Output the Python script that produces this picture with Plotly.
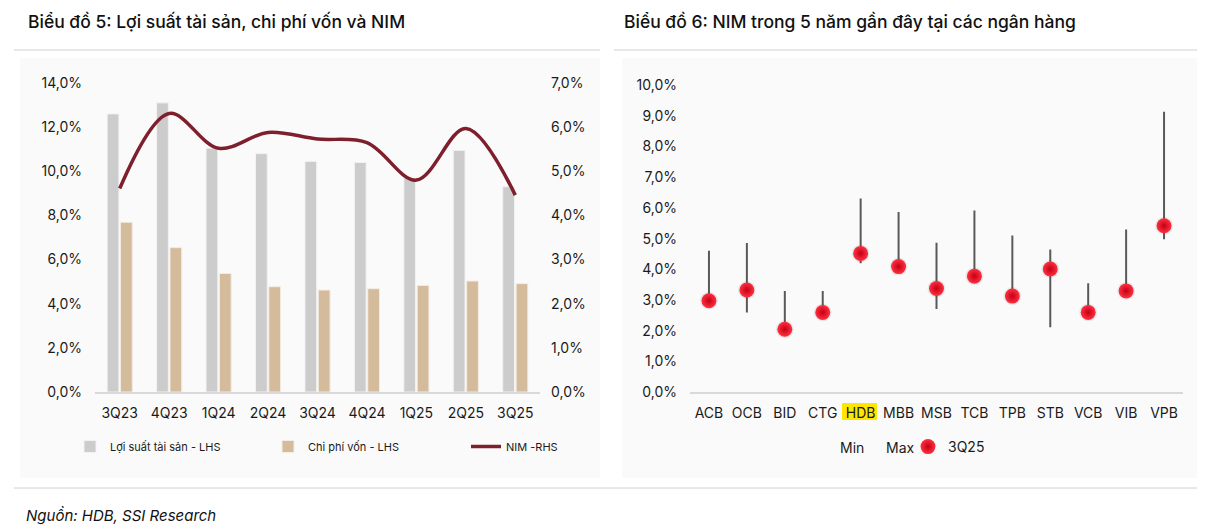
import plotly.graph_objects as go

W, H = 1205, 528
OFF = 8  # the page places the figure 8px in from the top-left corner

# ---------------- data ----------------
quarters = ["3Q23", "4Q23", "1Q24", "2Q24", "3Q24", "4Q24", "1Q25", "2Q25", "3Q25"]
asset_yield = [0.126, 0.131, 0.1105, 0.108, 0.1045, 0.104, 0.097, 0.1095, 0.093]
cost_of_funds = [0.0769, 0.0654, 0.0537, 0.0477, 0.0462, 0.0468, 0.0483, 0.0503, 0.0491]
nim = [0.0461, 0.0631, 0.0552, 0.0588, 0.0573, 0.0565, 0.0480, 0.0597, 0.0446]

left_ticks = [0.0, 0.02, 0.04, 0.06, 0.08, 0.10, 0.12, 0.14]
left_labels = ["0,0%", "2,0%", "4,0%", "6,0%", "8,0%", "10,0%", "12,0%", "14,0%"]
right_ticks = [0.0, 0.01, 0.02, 0.03, 0.04, 0.05, 0.06, 0.07]
right_labels = ["0,0%", "1,0%", "2,0%", "3,0%", "4,0%", "5,0%", "6,0%", "7,0%"]

banks = ["ACB", "OCB", "BID", "CTG", "HDB", "MBB", "MSB", "TCB", "TPB", "STB", "VCB", "VIB", "VPB"]
nim_min = [0.0298, 0.0260, 0.0205, 0.0260, 0.0420, 0.0409, 0.0271, 0.0378, 0.0313, 0.0212, 0.0260, 0.0330, 0.0498]
nim_max = [0.0461, 0.0486, 0.0330, 0.0330, 0.0631, 0.0587, 0.0487, 0.0592, 0.0510, 0.0465, 0.0355, 0.0530, 0.0913]
nim_3q25 = [0.0298, 0.0333, 0.0205, 0.0260, 0.0452, 0.0409, 0.0338, 0.0378, 0.0313, 0.0401, 0.0260, 0.0330, 0.0542]

bank_ticks = [i / 100 for i in range(0, 11)]
bank_tick_labels = [f"{i},0%" for i in range(0, 11)]

FONT = "Inter"
TXT = "#1a1a1a"

def px(x):
    return (x - OFF) / W

def py(y):
    return 1 - (y - OFF) / H

fig = go.Figure()

# ---------------- left chart ----------------
fig.add_trace(go.Bar(
    x=quarters, y=asset_yield, name="Lợi suất tài sản - LHS",
    marker=dict(color="#cccccc", line=dict(color="#f2f2f2", width=1)),
    xaxis="x", yaxis="y", legend="legend"))
fig.add_trace(go.Bar(
    x=quarters, y=cost_of_funds, name="Chi phí vốn - LHS",
    marker=dict(color="#d4bb9b", line=dict(color="#f4ece2", width=1)),
    xaxis="x", yaxis="y", legend="legend"))
fig.add_trace(go.Scatter(
    x=quarters, y=nim, name="NIM -RHS", mode="lines",
    line=dict(color="#7d1f2c", width=3.5, shape="spline", smoothing=1.0),
    xaxis="x", yaxis="y2", legend="legend"))

# ---------------- right chart ----------------
for i, b in enumerate(banks):
    fig.add_trace(go.Scatter(
        x=[b, b], y=[nim_min[i], nim_max[i]], mode="lines",
        line=dict(color="#595959", width=2), showlegend=False,
        hoverinfo="skip", xaxis="x3", yaxis="y3"))

fig.add_trace(go.Scatter(
    x=banks, y=nim_min, name="Min", mode="markers", showlegend=False,
    marker=dict(size=1, color="rgba(0,0,0,0)"),
    xaxis="x3", yaxis="y3"))
fig.add_trace(go.Scatter(
    x=banks, y=nim_max, name="Max", mode="markers", showlegend=False,
    marker=dict(size=1, color="rgba(0,0,0,0)"),
    xaxis="x3", yaxis="y3"))
# soft shadow under the spheres
fig.add_trace(go.Scatter(
    x=banks, y=nim_3q25, mode="markers", showlegend=False, hoverinfo="skip",
    marker=dict(size=18, color="rgba(0,0,0,0.07)", line=dict(width=0)),
    xaxis="x3", yaxis="y3"))
fig.add_trace(go.Scatter(
    x=banks, y=nim_3q25, name="3Q25", mode="markers",
    marker=dict(size=15, color="#ff3040",
                gradient=dict(type="radial", color="#c40016"),
                line=dict(width=0)),
    xaxis="x3", yaxis="y3", legend="legend2"))

axis_font = dict(family=FONT, size=14, color=TXT)

fig.update_layout(
    width=W, height=H,
    margin=dict(l=0, r=0, t=0, b=0, autoexpand=False),
    paper_bgcolor="white", plot_bgcolor="rgba(0,0,0,0)",
    font=dict(family=FONT, color=TXT),
    barmode="group", bargap=0.46, bargroupgap=0.12,
    xaxis=dict(domain=[px(95), px(540)], anchor="y", type="category",
               range=[-0.5, len(quarters) - 0.5], automargin=False,
               showgrid=False, showline=True, linecolor="#d9d9d9", linewidth=2,
               ticks="", tickfont=axis_font, ticklabelstandoff=7),
    yaxis=dict(domain=[py(392), py(83)], range=[0, 0.14], anchor="x", automargin=False,
               tickvals=left_ticks, ticktext=left_labels, showgrid=False,
               zeroline=False, showline=False, tickfont=axis_font, ticklabelstandoff=12),
    yaxis2=dict(domain=[py(392), py(83)], range=[0, 0.07], anchor="x", automargin=False,
                overlaying="y", side="right",
                tickvals=right_ticks, ticktext=right_labels, showgrid=False,
                zeroline=False, showline=False, tickfont=axis_font, ticklabelstandoff=10),
    xaxis3=dict(domain=[px(690), px(1183)], anchor="y3", type="category",
                range=[-0.5, len(banks) - 0.5], automargin=False,
                showgrid=False, showline=True, linecolor="#d9d9d9", linewidth=2,
                ticks="", tickfont=axis_font, ticklabelstandoff=7),
    yaxis3=dict(domain=[py(392.3), py(85)], range=[0, 0.10], anchor="x3", automargin=False,
                tickvals=bank_ticks, ticktext=bank_tick_labels, showgrid=False,
                zeroline=False, showline=False, tickfont=axis_font, ticklabelstandoff=12),
    legend=dict(orientation="h", x=px(70), y=py(432), xanchor="left", yanchor="top",
                font=dict(family=FONT, size=11, color=TXT), bgcolor="rgba(0,0,0,0)",
                entrywidth=153, entrywidthmode="pixels", itemwidth=30,
                traceorder="normal"),
    legend2=dict(orientation="h", x=px(908), y=py(431), xanchor="left", yanchor="top",
                 font=dict(family=FONT, size=14, color=TXT), bgcolor="rgba(0,0,0,0)",
                 itemwidth=30, traceorder="normal"),
    showlegend=True,
)

shapes = [
    # panel backgrounds
    dict(type="rect", xref="paper", yref="paper", x0=px(20), x1=px(600), y0=py(478), y1=py(58),
         fillcolor="#fafafa", line=dict(width=0), layer="below"),
    dict(type="rect", xref="paper", yref="paper", x0=px(622), x1=px(1200), y0=py(478), y1=py(58),
         fillcolor="#fafafa", line=dict(width=0), layer="below"),
    # title underlines
    dict(type="line", xref="paper", yref="paper", x0=px(14), x1=px(600), y0=py(50), y1=py(50),
         line=dict(color="#d0d0d0", width=1)),
    dict(type="line", xref="paper", yref="paper", x0=px(614), x1=px(1205), y0=py(50), y1=py(50),
         line=dict(color="#d0d0d0", width=1)),
    # footer line
    dict(type="line", xref="paper", yref="paper", x0=px(14), x1=px(1205), y0=py(488), y1=py(488),
         line=dict(color="#d0d0d0", width=1)),
    # HDB highlight
    dict(type="rect", xref="paper", yref="paper", x0=px(842), x1=px(877), y0=py(420), y1=py(403),
         fillcolor="#ffe600", line=dict(width=0), layer="below"),
]

annotations = [
    dict(text="Biểu đồ 5: Lợi suất tài sản, chi phí vốn và NIM", xref="paper", yref="paper",
         x=px(26), y=py(22), xanchor="left", yanchor="middle", showarrow=False,
         font=dict(family=FONT, size=17.5, color="#111111", weight=500)),
    dict(text="Biểu đồ 6: NIM trong 5 năm gần đây tại các ngân hàng", xref="paper", yref="paper",
         x=px(622), y=py(22), xanchor="left", yanchor="middle", showarrow=False,
         font=dict(family=FONT, size=17.5, color="#111111", weight=500)),
    dict(text="<i>Nguồn: HDB, SSI Research</i>", xref="paper", yref="paper",
         x=px(24), y=py(515), xanchor="left", yanchor="middle", showarrow=False,
         font=dict(family=FONT, size=15, color="#111111")),
    # legend labels of the Min / Max series (no visible symbol in the original)
    dict(text="Min", xref="paper", yref="paper",
         x=px(838), y=py(447), xanchor="left", yanchor="middle", showarrow=False,
         font=dict(family=FONT, size=14, color=TXT)),
    dict(text="Max", xref="paper", yref="paper",
         x=px(884), y=py(447), xanchor="left", yanchor="middle", showarrow=False,
         font=dict(family=FONT, size=14, color=TXT)),
]

fig.update_layout(shapes=shapes, annotations=annotations)

fig.write_html("out.html")
